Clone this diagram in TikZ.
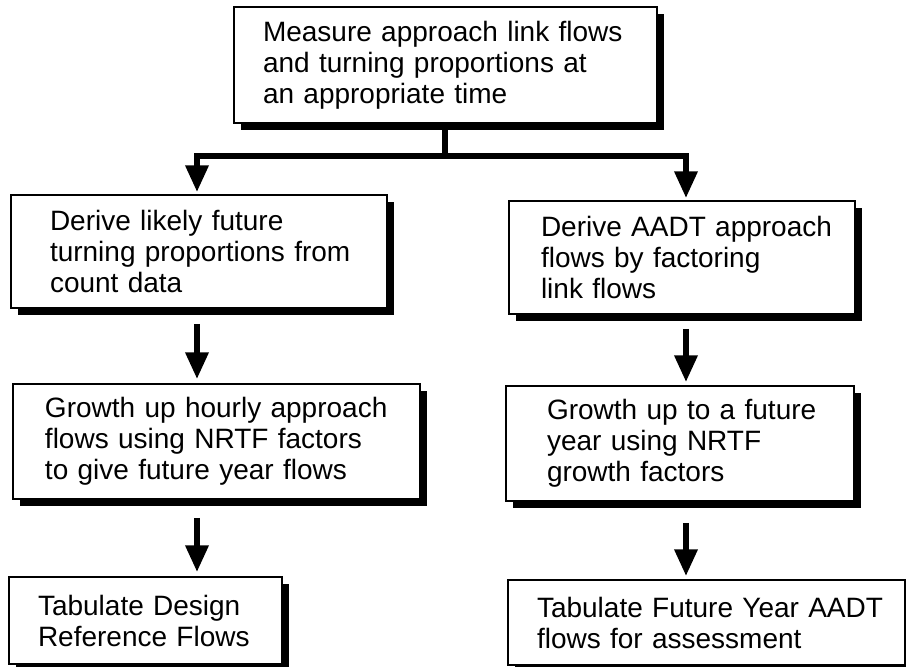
\documentclass[tikz,border=0pt]{standalone}
\usepackage{fontspec}
\setmainfont{Liberation Sans}
\usetikzlibrary{arrows.meta,shadows}
\begin{document}
\begin{tikzpicture}[x=1pt,y=-1pt,
  box/.style={draw=black, line width=1.5pt, fill=white, rectangle, align=left,
    font=\fontsize{28}{31}\selectfont, inner ysep=0pt,
    drop shadow={shadow xshift=7pt, shadow yshift=-7pt, fill=black, opacity=1}},
  bx/.style n args={4}{minimum width=#1pt, minimum height=#2pt, text width=#3pt, inner xsep=#4pt},
  conn/.style={line width=6.5pt, line join=miter},
  arr/.style={conn, -{Triangle[width=22pt,length=27pt]}},
]
\useasboundingbox (0,0) rectangle (906,667);

\node[box, bx={423}{116}{365}{29}] (top) at (445.5,65)
  {\mbox{Measure approach link flows}\\\mbox{and turning proportions at}\\\mbox{an appropriate time}};
\node[box, bx={376}{113}{298}{39}] (L1) at (199,251.5)
  {\mbox{Derive likely future}\\\mbox{turning proportions from}\\\mbox{count data}};
\node[box, bx={346}{113}{282}{32}] (R1) at (682,257.5)
  {\mbox{Derive AADT approach}\\\mbox{flows by factoring}\\\mbox{link flows}};
\node[box, bx={407}{115}{343}{32}] (L2) at (216.5,441.5)
  {\mbox{Growth up hourly approach}\\\mbox{flows using NRTF factors}\\\mbox{to give future year flows}};
\node[box, bx={348}{115}{266}{41}] (R2) at (680,443.5)
  {\mbox{Growth up to a future}\\\mbox{year using NRTF}\\\mbox{growth factors}};
\node[box, bx={273}{87}{215}{29}] (L3) at (145.5,620.5)
  {\mbox{Tabulate Design}\\\mbox{Reference Flows}};
\node[box, bx={397}{85}{339}{29}] (R3) at (706.5,622.5)
  {\mbox{Tabulate Future Year AADT}\\\mbox{flows for assessment}};

\coordinate (hub) at (445,156);
\coordinate (jl) at (197,156);
\coordinate (jr) at (686,156);

\draw[conn] (top.south -| hub) -- (hub);
\draw[arr, shorten >=2pt] (hub) -| (L1.north -| jl);
\draw[arr, shorten >=2pt] (hub) -| (R1.north -| jr);
\draw[arr, shorten <=15pt, shorten >=4pt] (L1.south -| jl) -- (L2.north -| jl);
\draw[arr, shorten <=18pt, shorten >=4pt] (L2.south -| jl) -- (L3.north -| jl);
\draw[arr, shorten <=14pt, shorten >=3pt] (R1.south -| jr) -- (R2.north -| jr);
\draw[arr, shorten <=21pt, shorten >=3pt] (R2.south -| jr) -- (R3.north -| jr);
\end{tikzpicture}
\end{document}
